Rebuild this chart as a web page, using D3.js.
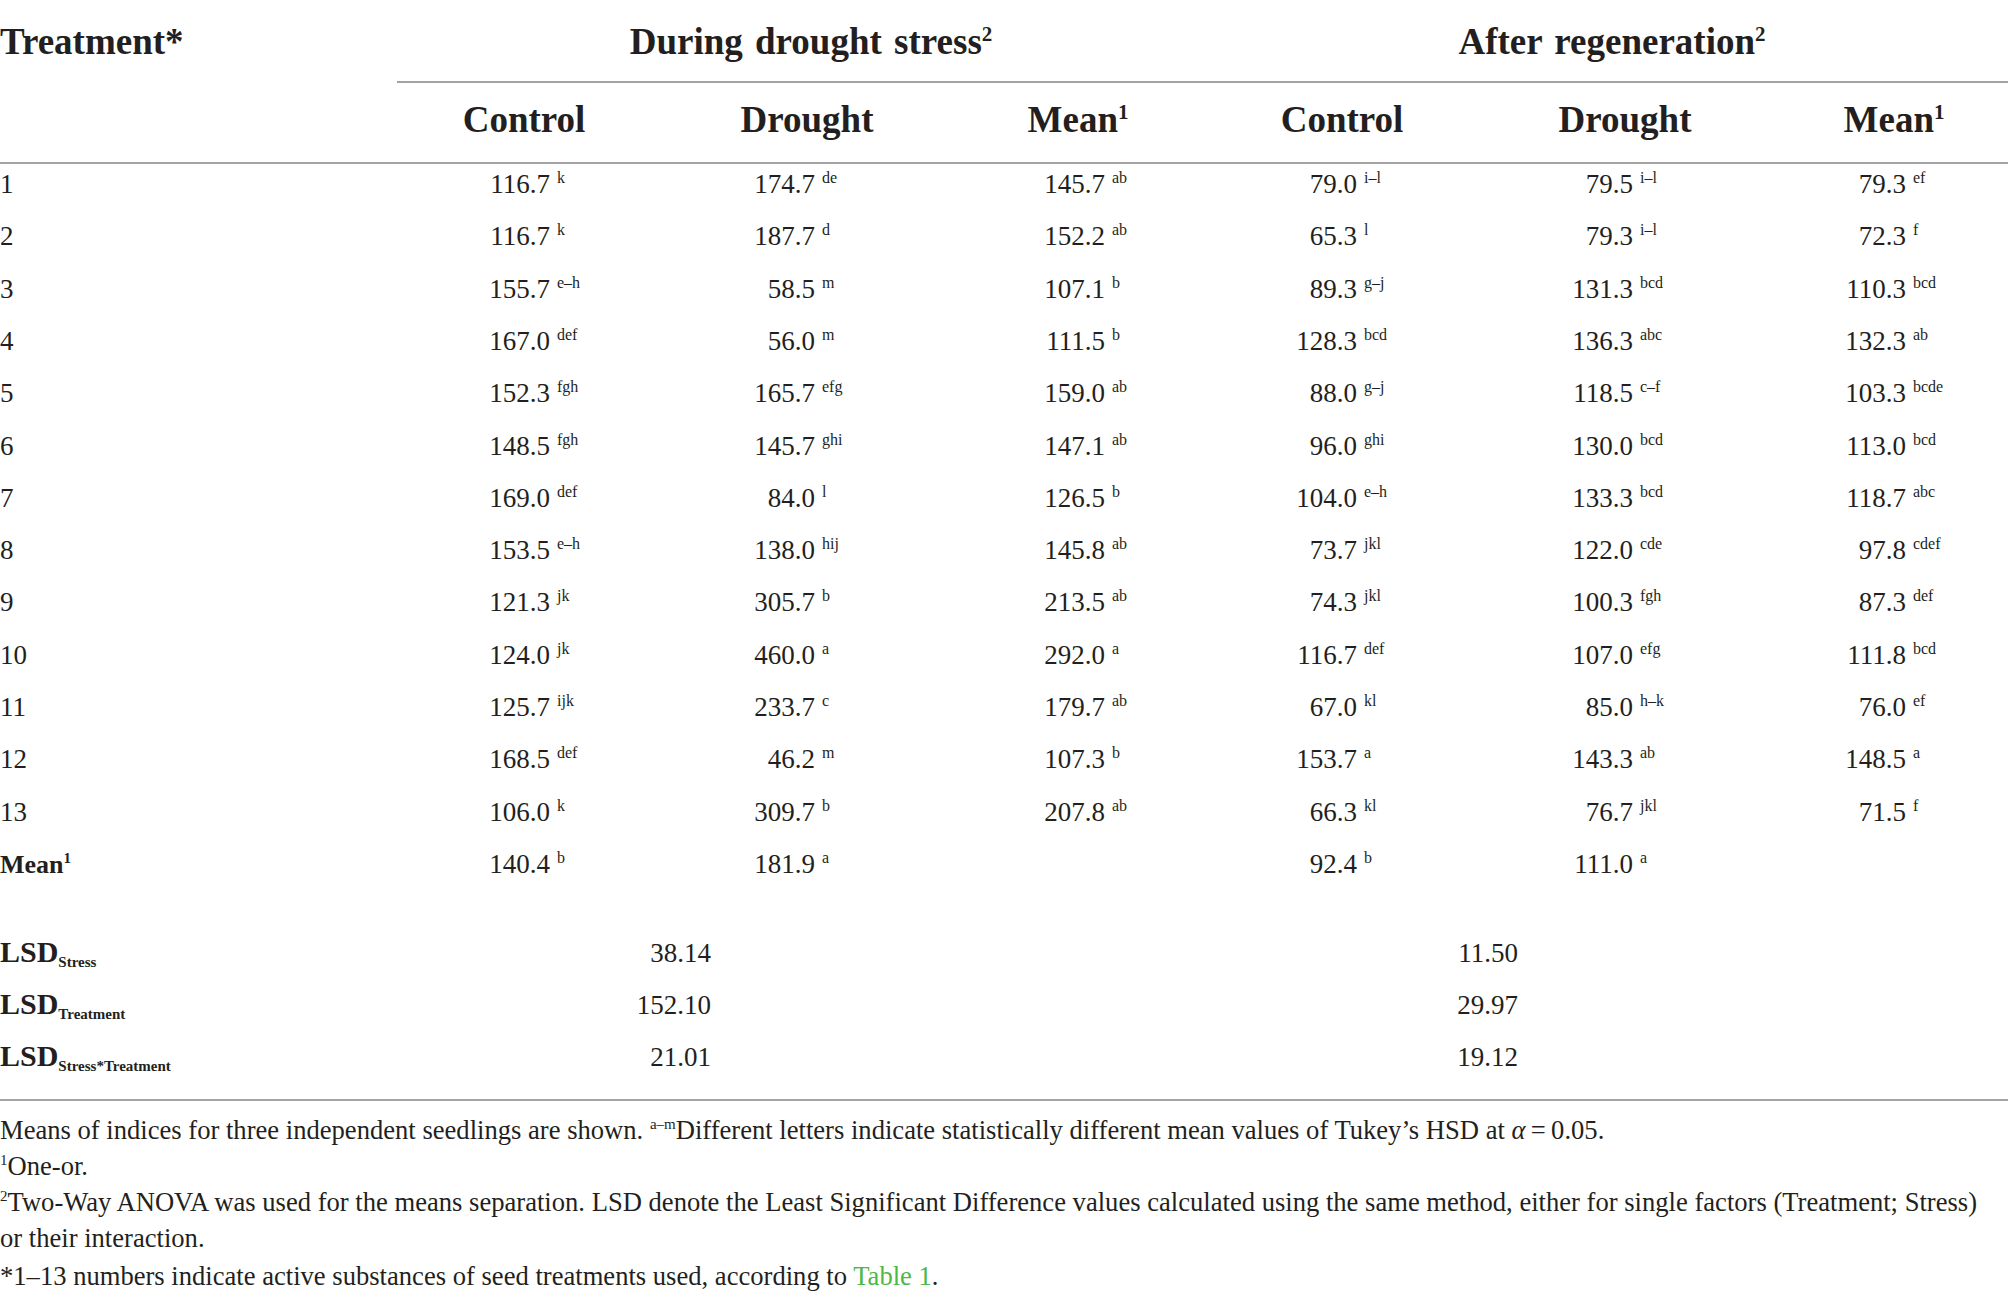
<!DOCTYPE html>
<html>
<head>
<meta charset="utf-8">
<script src="https://cdn.jsdelivr.net/npm/d3@7"></script>
<style>
  html, body { margin: 0; padding: 0; background: #fff; }
  svg { display: block; }
  text { font-family: "Liberation Serif", "DejaVu Serif", serif; fill: #231f20; }
</style>
</head>
<body>
<script>
// ---------------- data ----------------
const treatments = ["1","2","3","4","5","6","7","8","9","10","11","12","13"];
const groups = ["During drought stress", "After regeneration"];
const subHeaders = ["Control", "Drought", "Mean"];

const duringControl    = [116.7,116.7,155.7,167.0,152.3,148.5,169.0,153.5,121.3,124.0,125.7,168.5,106.0];
const duringControlSig = ["k","k","e–h","def","fgh","fgh","def","e–h","jk","jk","ijk","def","k"];
const duringDrought    = [174.7,187.7,58.5,56.0,165.7,145.7,84.0,138.0,305.7,460.0,233.7,46.2,309.7];
const duringDroughtSig = ["de","d","m","m","efg","ghi","l","hij","b","a","c","m","b"];
const duringMean       = [145.7,152.2,107.1,111.5,159.0,147.1,126.5,145.8,213.5,292.0,179.7,107.3,207.8];
const duringMeanSig    = ["ab","ab","b","b","ab","ab","b","ab","ab","a","ab","b","ab"];

const afterControl     = [79.0,65.3,89.3,128.3,88.0,96.0,104.0,73.7,74.3,116.7,67.0,153.7,66.3];
const afterControlSig  = ["i–l","l","g–j","bcd","g–j","ghi","e–h","jkl","jkl","def","kl","a","kl"];
const afterDrought     = [79.5,79.3,131.3,136.3,118.5,130.0,133.3,122.0,100.3,107.0,85.0,143.3,76.7];
const afterDroughtSig  = ["i–l","i–l","bcd","abc","c–f","bcd","bcd","cde","fgh","efg","h–k","ab","jkl"];
const afterMean        = [79.3,72.3,110.3,132.3,103.3,113.0,118.7,97.8,87.3,111.8,76.0,148.5,71.5];
const afterMeanSig     = ["ef","f","bcd","ab","bcde","bcd","abc","cdef","def","bcd","ef","a","f"];

const stressMeanDuring    = [140.4, 181.9];
const stressMeanDuringSig = ["b", "a"];
const stressMeanAfter     = [92.4, 111.0];
const stressMeanAfterSig  = ["b", "a"];

const lsdLabels = ["Stress", "Treatment", "Stress*Treatment"];
const lsdDuring = [38.14, 152.10, 21.01];
const lsdAfter  = [11.50, 29.97, 19.12];

// ---------------- layout ----------------
const W = 2008, H = 1305;
const ink = "#231f20", rule = "#a3a3a3", green = "#4cb848";

const svg = d3.select("body").append("svg")
  .attr("width", W).attr("height", H).attr("viewBox", `0 0 ${W} ${H}`);

const columns = ["dC","dD","dM","aC","aD","aM"];
// right edge of the number in each column
const xNum = d3.scaleOrdinal().domain(columns).range([550, 815, 1105, 1357, 1633, 1906]);
// centre of each sub header
const xHead = d3.scaleOrdinal().domain(columns).range([524, 807, 1078, 1342, 1625, 1894]);
const xGroup = d3.scaleOrdinal().domain(groups).range([811, 1612]);
const groupSpan = d3.scaleOrdinal().domain(groups).range([[397, 1204], [1204, 2008]]);

const rowKeys = treatments.concat(["Mean"]);
const yRow = d3.scalePoint().domain(rowKeys).range([193, 873]);
const yLsd = d3.scalePoint().domain(lsdLabels).range([962, 1066]);

const bodySize = 27, headSize = 37, supSize = 16;
const f1 = d3.format(".1f"), f2 = d3.format(".2f");

// ---------------- header ----------------
svg.append("text").attr("x", 0).attr("y", 54)
  .attr("font-size", headSize).attr("font-weight", "bold").text("Treatment*");

groups.forEach(g => {
  const t = svg.append("text").attr("x", xGroup(g)).attr("y", 54)
    .attr("text-anchor", "middle").attr("font-size", headSize).attr("font-weight", "bold")
    .attr("word-spacing", 3);
  t.append("tspan").text(g);
  t.append("tspan").attr("font-size", 21).attr("dy", -13).text("2");
  const [x1, x2] = groupSpan(g);
  svg.append("line").attr("x1", x1).attr("x2", x2).attr("y1", 82).attr("y2", 82)
    .attr("stroke", rule).attr("stroke-width", 1.8);
});

columns.forEach((c, i) => {
  const label = subHeaders[i % 3];
  const t = svg.append("text").attr("x", xHead(c)).attr("y", 132)
    .attr("text-anchor", "middle").attr("font-size", headSize).attr("font-weight", "bold");
  t.append("tspan").text(label);
  if (label === "Mean") t.append("tspan").attr("font-size", 21).attr("dy", -13).text("1");
});

svg.append("line").attr("x1", 0).attr("x2", W).attr("y1", 163).attr("y2", 163)
  .attr("stroke", rule).attr("stroke-width", 1.8);

// ---------------- body ----------------
function cell(col, y, value, sig, fmt) {
  svg.append("text").attr("x", xNum(col)).attr("y", y)
    .attr("text-anchor", "end").attr("font-size", bodySize).text(fmt(value));
  if (sig) {
    svg.append("text").attr("x", xNum(col) + 7).attr("y", y - 10)
      .attr("font-size", supSize).text(sig);
  }
}

const series = [
  ["dC", duringControl, duringControlSig],
  ["dD", duringDrought, duringDroughtSig],
  ["dM", duringMean, duringMeanSig],
  ["aC", afterControl, afterControlSig],
  ["aD", afterDrought, afterDroughtSig],
  ["aM", afterMean, afterMeanSig]
];

treatments.forEach((t, i) => {
  svg.append("text").attr("x", 0).attr("y", yRow(t)).attr("font-size", bodySize).text(t);
  series.forEach(([col, vals, sigs]) => cell(col, yRow(t), vals[i], sigs[i], f1));
});

// Mean row
{
  const t = svg.append("text").attr("x", 0).attr("y", yRow("Mean"))
    .attr("font-size", 26).attr("font-weight", "bold");
  t.append("tspan").text("Mean");
  t.append("tspan").attr("font-size", 15).attr("dy", -10).text("1");
  cell("dC", yRow("Mean"), stressMeanDuring[0], stressMeanDuringSig[0], f1);
  cell("dD", yRow("Mean"), stressMeanDuring[1], stressMeanDuringSig[1], f1);
  cell("aC", yRow("Mean"), stressMeanAfter[0], stressMeanAfterSig[0], f1);
  cell("aD", yRow("Mean"), stressMeanAfter[1], stressMeanAfterSig[1], f1);
}

// LSD rows
const xLsd = d3.scaleOrdinal().domain(groups).range([711, 1518]);
lsdLabels.forEach((lab, i) => {
  const y = yLsd(lab);
  const t = svg.append("text").attr("x", 0).attr("y", y)
    .attr("font-size", 30).attr("font-weight", "bold");
  t.append("tspan").text("LSD");
  t.append("tspan").attr("font-size", 15).attr("dy", 5).text(lab);
  svg.append("text").attr("x", xLsd(groups[0])).attr("y", y).attr("text-anchor", "end")
    .attr("font-size", bodySize).text(f2(lsdDuring[i]));
  svg.append("text").attr("x", xLsd(groups[1])).attr("y", y).attr("text-anchor", "end")
    .attr("font-size", bodySize).text(f2(lsdAfter[i]));
});

svg.append("line").attr("x1", 0).attr("x2", W).attr("y1", 1100).attr("y2", 1100)
  .attr("stroke", rule).attr("stroke-width", 1.8);

// ---------------- footnotes ----------------
const footY = [1139, 1175, 1211, 1247, 1285];
const footSize = 26.6, footSup = 15;
const notes = [
  [["", "Means of indices for three independent seedlings are shown. "], ["sup", "a–m"],
   ["", "Different letters indicate statistically different mean values of Tukey’s HSD at "],
   ["i", "α"], ["", "\u2009=\u20090.05."]],
  [["sup", "1"], ["", "One-or."]],
  [["sup", "2"], ["", "Two-Way ANOVA was used for the means separation. LSD denote the Least Significant Difference values calculated using the same method, either for single factors (Treatment; Stress)"]],
  [["", "or their interaction."]],
  [["", "*1–13 numbers indicate active substances of seed treatments used, according to "], ["g", "Table 1"], ["", "."]]
];
notes.forEach((parts, i) => {
  const t = svg.append("text").attr("class", "foot").attr("x", 0).attr("y", footY[i])
    .attr("font-size", footSize);
  let raised = false;
  parts.forEach(([kind, str]) => {
    const s = t.append("tspan").text(str);
    if (kind === "sup") { s.attr("font-size", footSup).attr("dy", -10); raised = true; }
    else if (raised) { s.attr("dy", 10); raised = false; }
    if (kind === "i") s.attr("font-style", "italic");
    if (kind === "g") s.style("fill", green);
  });
});
</script>
</body>
</html>
